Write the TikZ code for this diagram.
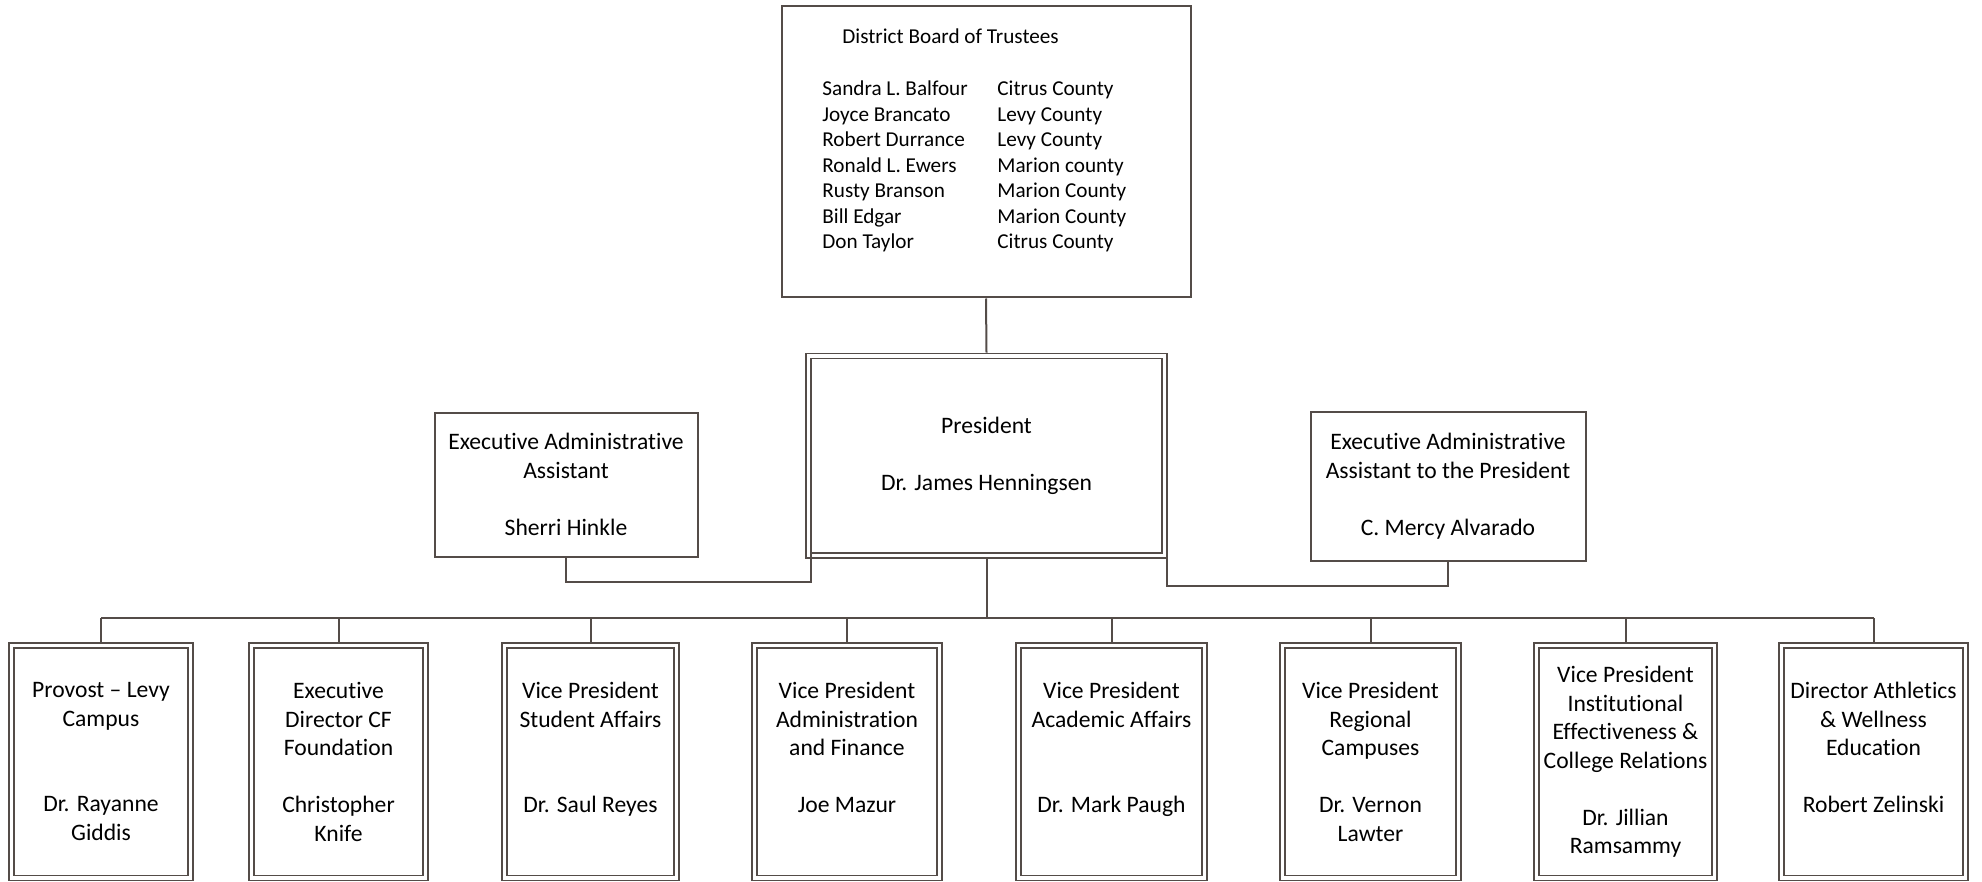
\documentclass[tikz,border=0pt]{standalone}
\usepackage{fontspec}
\setmainfont{Carlito}[Ligatures={TeX,NoCommon}]
\definecolor{boxline}{RGB}{84,76,72}

\begin{document}
\begin{tikzpicture}[x=0.5pt,y=-0.5pt,
  link/.style={draw=boxline,line width=1pt},
  onebox/.style={draw=boxline,line width=1pt,rectangle,inner sep=0pt,align=center,font=\fontsize{11.8}{14.25}\selectfont},
  twobox/.style={onebox,line width=0.8pt,double=white,double distance=1.7pt,outer sep=1.65pt},
  trust/.style={inner sep=0pt,font=\fontsize{10.6}{12.75}\selectfont}]
\useasboundingbox (0,0) rectangle (1982,882);
% board of trustees
\node[onebox,minimum width=204.5pt,minimum height=145.5pt] (board) at (986,152) {};
\node[trust,anchor=base west] (title) at (842,44) {District Board of Trustees};
\foreach \who/\where [count=\i from 0] in {Sandra L. Balfour/Citrus County,Joyce Brancato/Levy County,Robert Durrance/Levy County,Ronald L. Ewers/Marion county,Rusty Branson/Marion County,Bill Edgar/Marion County,Don Taylor/Citrus County}{
  \node[trust,anchor=base west] (name\i) at (822,96+25.5*\i) {\who};
  \node[trust,anchor=base west] (county\i) at (997,96+25.5*\i) {\where};}
% president and assistants
\node[twobox,minimum width=178pt,minimum height=99.75pt] (pres) at (986.5,455.75) {President\\~\\Dr. James Henningsen};
\node[onebox,minimum width=131.5pt,minimum height=72pt] (eaL) at (566,484.5) {Executive Administrative\\Assistant\\~\\Sherri Hinkle};
\node[onebox,minimum width=137.5pt,minimum height=74.5pt] (eaR) at (1448,486) {Executive Administrative\\Assistant to the President\\~\\C. Mercy Alvarado};
\coordinate (pL) at (811,510); \coordinate (pR) at (1167,510);
\coordinate (bus) at (986.5,618);
\draw[link] (board.south) -- (pres.north);
\draw[link] (eaL.south) -- ++(0,24) -| (pL);
\draw[link] (eaR.south) -- ++(0,24) -| (pR);
% vice presidents and directors
\foreach \n/\x/\w/\t in {
  b1/101/89.7/{Provost – Levy\\Campus\\~\\~\\Dr. Rayanne\\Giddis},
  b2/338.5/87.2/{Executive\\Director CF\\Foundation\\~\\Christopher\\Knife},
  b3/590.5/86.2/{Vice President\\Student Affairs\\~\\~\\Dr. Saul Reyes\\~},
  b4/847/92.7/{Vice President\\Administration\\and Finance\\~\\Joe Mazur\\~},
  b5/1111.5/93.2/{Vice President\\Academic Affairs\\~\\~\\Dr. Mark Paugh\\~},
  b6/1370.5/88.2/{Vice President\\Regional\\Campuses\\~\\Dr. Vernon\\Lawter},
  b7/1625.5/89.2/{Vice President\\Institutional\\Effectiveness \&\\College Relations\\~\\Dr. Jillian\\Ramsammy},
  b8/1873.5/92.2/{Director Athletics\\\& Wellness\\Education\\~\\Robert Zelinski\\~}}{
  \node[twobox,minimum width=\w pt,minimum height=116.25pt] (\n) at (\x,761.75) {\t};
  \draw[link] (\n.north) -- (\n.north |- bus);}
\draw[link] (pres.south) -- (bus);
\draw[link] (b1.north |- bus) -- (b8.north |- bus);
\end{tikzpicture}
\end{document}
